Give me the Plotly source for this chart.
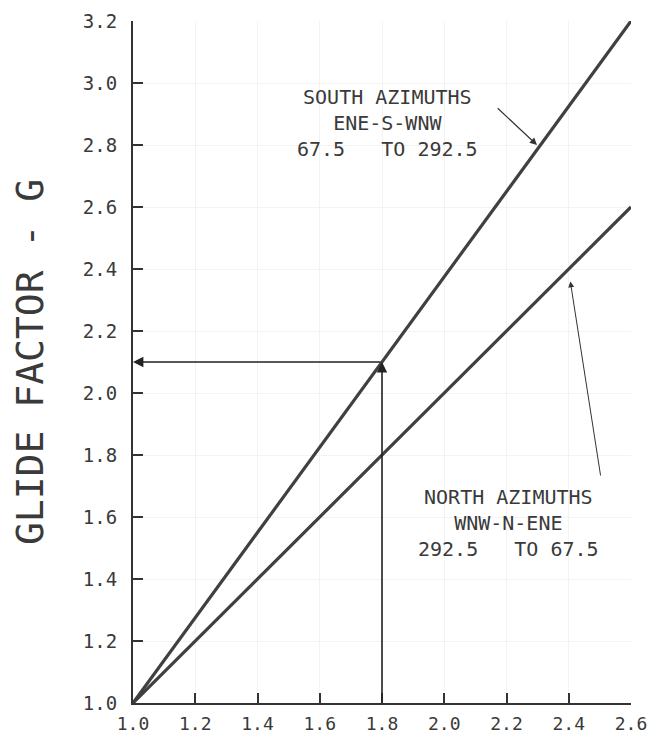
import plotly.graph_objects as go

# Data
x_factor = [1.0, 2.6]                 # horizontal-axis values
south_glide = [1.0, 3.2]              # SOUTH AZIMUTHS line
north_glide = [1.0, 2.6]              # NORTH AZIMUTHS line
example_x = 1.8                       # worked example lookup
example_g = 2.1
x_ticks = [1.0, 1.2, 1.4, 1.6, 1.8, 2.0, 2.2, 2.4, 2.6]
y_ticks = [1.0, 1.2, 1.4, 1.6, 1.8, 2.0, 2.2, 2.4, 2.6, 2.8, 3.0, 3.2]
south_label = ["SOUTH AZIMUTHS", "ENE-S-WNW", "67.5\u00a0\u00a0 TO 292.5"]
north_label = ["NORTH AZIMUTHS", "WNW-N-ENE", "292.5\u00a0\u00a0 TO 67.5"]

FONT = "DejaVu Sans Mono"
INK = "#3a3a3a"

fig = go.Figure()
fig.add_trace(go.Scatter(x=x_factor, y=south_glide, mode="lines",
                         line=dict(color="#404040", width=3.2), showlegend=False,
                         hoverinfo="skip"))
fig.add_trace(go.Scatter(x=x_factor, y=north_glide, mode="lines",
                         line=dict(color="#404040", width=3.2), showlegend=False,
                         hoverinfo="skip"))

annos = []
# vertical lookup arrow from axis up to south line
annos.append(dict(x=example_x, y=example_g, ax=example_x, ay=y_ticks[0],
                  xref="x", yref="y", axref="x", ayref="y", text="",
                  showarrow=True, arrowhead=2, arrowsize=1.3, arrowwidth=1.6,
                  arrowcolor="#222222"))
# horizontal lookup arrow to the G axis
annos.append(dict(x=x_ticks[0], y=example_g, ax=example_x, ay=example_g,
                  xref="x", yref="y", axref="x", ayref="y", text="",
                  showarrow=True, arrowhead=2, arrowsize=1.3, arrowwidth=1.6,
                  arrowcolor="#222222"))
# label pointer arrows
annos.append(dict(x=2.298, y=2.80, ax=2.167, ay=2.923,
                  xref="x", yref="y", axref="x", ayref="y", text="",
                  showarrow=True, arrowhead=2, arrowsize=1.2, arrowwidth=1.2,
                  arrowcolor="#333333"))
annos.append(dict(x=2.405, y=2.36, ax=2.503, ay=1.729,
                  xref="x", yref="y", axref="x", ayref="y", text="",
                  showarrow=True, arrowhead=2, arrowsize=1.2, arrowwidth=1.0,
                  arrowcolor="#333333"))
# labels
annos.append(dict(x=1.817, y=2.871, xref="x", yref="y", showarrow=False,
                  text="<br>".join(south_label), align="center",
                  font=dict(family=FONT, size=20, color=INK)))
annos.append(dict(x=2.207, y=1.581, xref="x", yref="y", showarrow=False,
                  text="<br>".join(north_label), align="center",
                  font=dict(family=FONT, size=20, color=INK)))

fig.update_layout(
    width=648, height=739, autosize=False,
    margin=dict(l=133, r=17, t=21, b=36),
    paper_bgcolor="white", plot_bgcolor="white",
    font=dict(family=FONT, color=INK),
    annotations=annos,
    xaxis=dict(range=[x_factor[0], x_factor[1]], tickvals=x_ticks,
               tickformat=".1f", ticks="inside", ticklen=10, tickwidth=2,
               tickcolor="#333333", showline=True, linecolor="#333333",
               linewidth=2, mirror=False, showgrid=True, gridcolor="#f3f3f3",
               gridwidth=1, zeroline=False, fixedrange=True,
               tickfont=dict(family=FONT, size=18, color=INK),
               ticklabelstandoff=3, automargin=False,
               ticklabeloverflow="allow"),
    yaxis=dict(range=[y_ticks[0], y_ticks[-1]], tickvals=y_ticks,
               tickformat=".1f", ticks="inside", ticklen=10, tickwidth=2,
               tickcolor="#333333", showline=True, linecolor="#333333",
               linewidth=2, mirror=False, showgrid=True, gridcolor="#f3f3f3",
               gridwidth=1, zeroline=False, fixedrange=True,
               tickfont=dict(family=FONT, size=19, color=INK),
               ticklabelstandoff=10, automargin=False,
               title=dict(text="GLIDE FACTOR - G", standoff=28,
                          font=dict(family=FONT, size=38, color=INK))),
)

fig.write_html("out.html",
               config={"displayModeBar": False},
               post_script="document.body.style.margin='0';"
                           "document.body.style.overflow='hidden';")
